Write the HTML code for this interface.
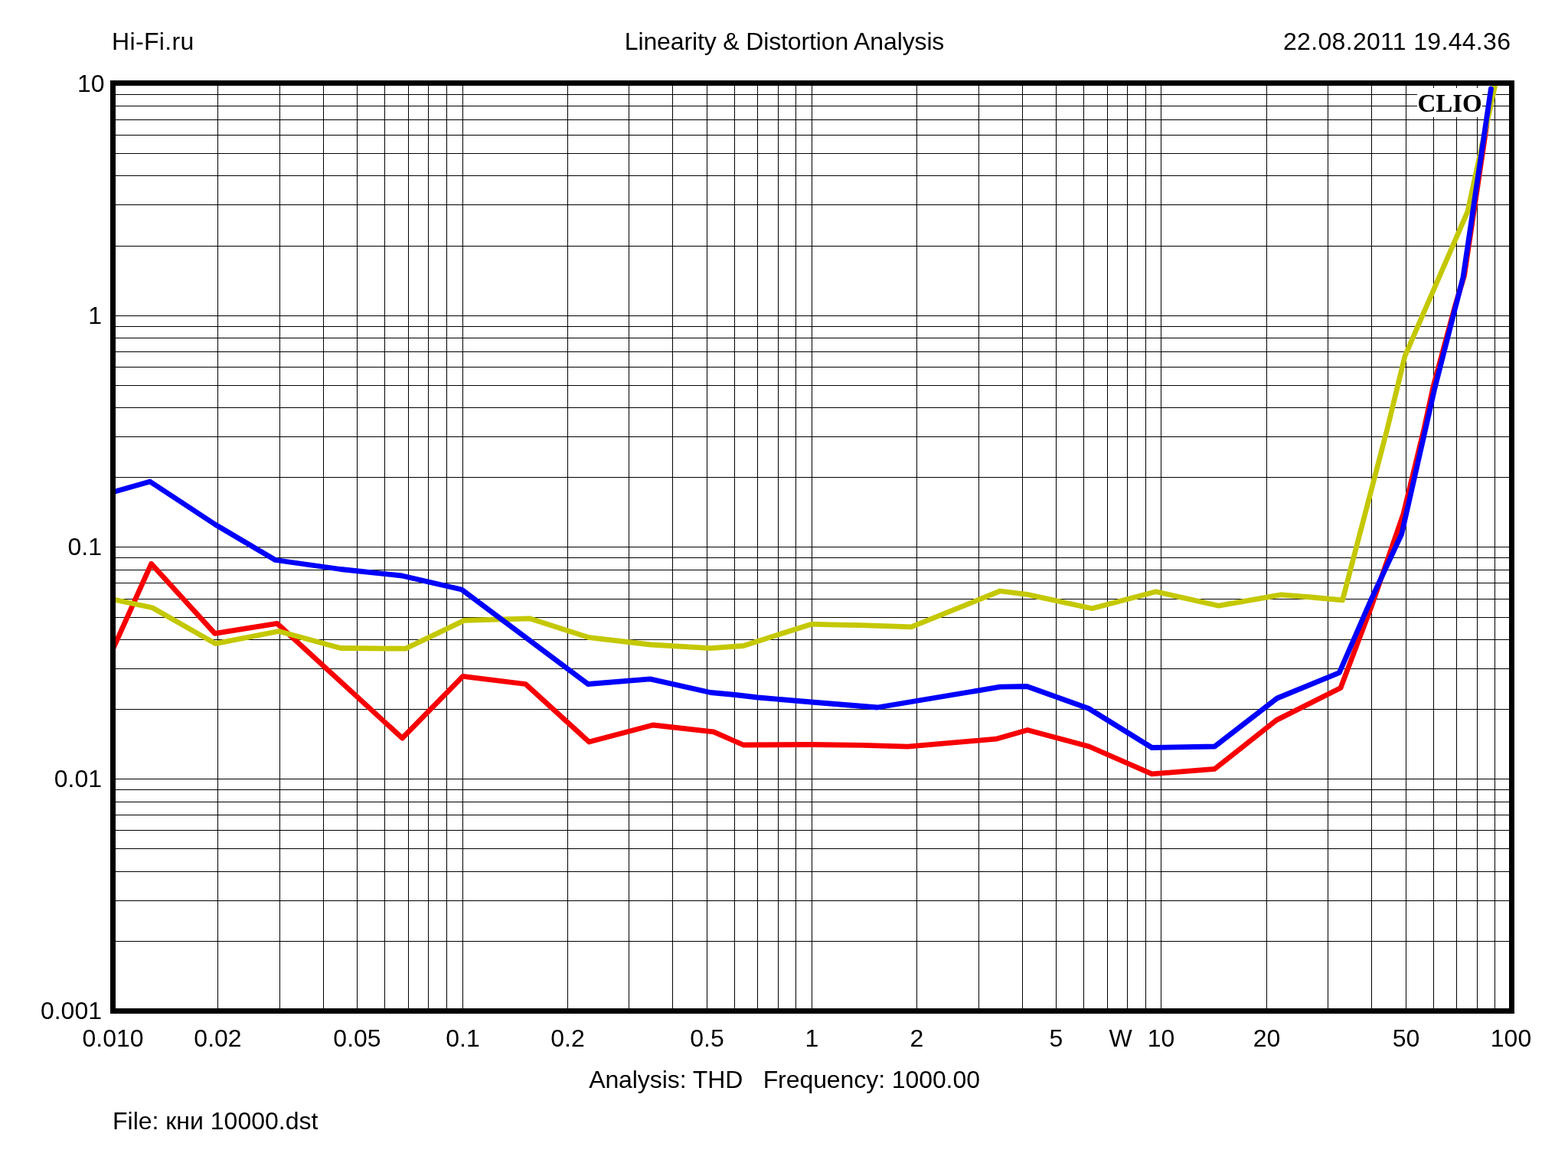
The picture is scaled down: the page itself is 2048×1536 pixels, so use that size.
<!DOCTYPE html>
<html><head><meta charset="utf-8"><title>Linearity &amp; Distortion Analysis</title>
<style>html,body{margin:0;padding:0;background:#fff;}body{width:2048px;height:1536px;overflow:hidden;}svg{display:block;}</style>
</head><body>
<svg width="2048" height="1536" viewBox="0 0 2048 1536">
<defs><clipPath id="pc"><rect x="151" y="112" width="1820" height="1205"/></clipPath></defs>
<g fill="#000" shape-rendering="crispEdges">
<rect x="284" y="112" width="1" height="1205"/>
<rect x="365" y="112" width="1" height="1205"/>
<rect x="422" y="112" width="1" height="1205"/>
<rect x="466" y="112" width="1" height="1205"/>
<rect x="502" y="112" width="1" height="1205"/>
<rect x="533" y="112" width="1" height="1205"/>
<rect x="559" y="112" width="1" height="1205"/>
<rect x="583" y="112" width="1" height="1205"/>
<rect x="604" y="112" width="1" height="1205"/>
<rect x="741" y="112" width="1" height="1205"/>
<rect x="821" y="112" width="1" height="1205"/>
<rect x="878" y="112" width="1" height="1205"/>
<rect x="923" y="112" width="1" height="1205"/>
<rect x="959" y="112" width="1" height="1205"/>
<rect x="989" y="112" width="1" height="1205"/>
<rect x="1016" y="112" width="1" height="1205"/>
<rect x="1039" y="112" width="1" height="1205"/>
<rect x="1060" y="112" width="1" height="1205"/>
<rect x="1197" y="112" width="1" height="1205"/>
<rect x="1278" y="112" width="1" height="1205"/>
<rect x="1335" y="112" width="1" height="1205"/>
<rect x="1379" y="112" width="1" height="1205"/>
<rect x="1415" y="112" width="1" height="1205"/>
<rect x="1446" y="112" width="1" height="1205"/>
<rect x="1472" y="112" width="1" height="1205"/>
<rect x="1496" y="112" width="1" height="1205"/>
<rect x="1516" y="112" width="1" height="1205"/>
<rect x="1654" y="112" width="1" height="1205"/>
<rect x="1734" y="112" width="1" height="1205"/>
<rect x="1791" y="112" width="1" height="1205"/>
<rect x="1836" y="112" width="1" height="1205"/>
<rect x="1872" y="112" width="1" height="1205"/>
<rect x="1902" y="112" width="1" height="1205"/>
<rect x="1929" y="112" width="1" height="1205"/>
<rect x="1952" y="112" width="1" height="1205"/>
<rect x="151" y="1229" width="1820" height="1"/>
<rect x="151" y="1176" width="1820" height="1"/>
<rect x="151" y="1138" width="1820" height="1"/>
<rect x="151" y="1108" width="1820" height="1"/>
<rect x="151" y="1084" width="1820" height="1"/>
<rect x="151" y="1064" width="1820" height="1"/>
<rect x="151" y="1047" width="1820" height="1"/>
<rect x="151" y="1031" width="1820" height="1"/>
<rect x="151" y="1017" width="1820" height="1"/>
<rect x="151" y="926" width="1820" height="1"/>
<rect x="151" y="873" width="1820" height="1"/>
<rect x="151" y="835" width="1820" height="1"/>
<rect x="151" y="806" width="1820" height="1"/>
<rect x="151" y="782" width="1820" height="1"/>
<rect x="151" y="761" width="1820" height="1"/>
<rect x="151" y="744" width="1820" height="1"/>
<rect x="151" y="728" width="1820" height="1"/>
<rect x="151" y="714" width="1820" height="1"/>
<rect x="151" y="623" width="1820" height="1"/>
<rect x="151" y="570" width="1820" height="1"/>
<rect x="151" y="532" width="1820" height="1"/>
<rect x="151" y="503" width="1820" height="1"/>
<rect x="151" y="479" width="1820" height="1"/>
<rect x="151" y="459" width="1820" height="1"/>
<rect x="151" y="441" width="1820" height="1"/>
<rect x="151" y="426" width="1820" height="1"/>
<rect x="151" y="412" width="1820" height="1"/>
<rect x="151" y="321" width="1820" height="1"/>
<rect x="151" y="267" width="1820" height="1"/>
<rect x="151" y="229" width="1820" height="1"/>
<rect x="151" y="200" width="1820" height="1"/>
<rect x="151" y="176" width="1820" height="1"/>
<rect x="151" y="156" width="1820" height="1"/>
<rect x="151" y="138" width="1820" height="1"/>
<rect x="151" y="123" width="1820" height="1"/>
<rect x="151" y="109" width="1820" height="1"/>
</g>
<rect x="1851" y="115" width="85" height="38" fill="#fff"/>
<text x="1851.4" y="146" font-family="'Liberation Serif', serif" font-weight="bold" font-size="33" fill="#000">CLIO</text>
<g clip-path="url(#pc)" fill="none" stroke-width="6.8" stroke-linejoin="round" stroke-linecap="round">
<path d="M140.0,864.4 L197.6,736.4 L280.6,827.4 L361.9,814.3 L525.4,964.1 L604.5,883.4 L686.5,893.5 L769.4,969.0 L852.8,947.0 L932.0,955.8 L971.0,973.0 L1060.0,972.5 L1127.0,973.3 L1185.5,975.2 L1300.9,965.2 L1342.0,953.5 L1422.5,975.0 L1504.5,1010.9 L1586.5,1004.3 L1667.1,940.6 L1751.0,898.5 L1792.0,790.0 L1833.0,671.0 L1860.0,560.0 L1872.0,505.0 L1901.0,398.0 L1912.5,360.0 L1921.5,300.0 L1942.0,162.0" stroke="#f60002"/>
<path d="M120.0,776.8 L151.0,783.5 L199.0,793.8 L281.4,840.6 L364.1,824.5 L444.8,846.5 L529.5,847.2 L606.3,810.4 L691.7,807.8 L769.4,832.7 L850.0,842.0 L928.0,846.6 L971.0,843.5 L1059.9,815.2 L1083.3,815.9 L1124.3,816.6 L1169.7,818.1 L1190.2,818.8 L1306.2,772.0 L1341.3,776.4 L1426.3,794.7 L1509.8,772.8 L1591.9,791.2 L1673.2,776.9 L1712.0,780.0 L1753.5,783.8 L1812.0,560.0 L1835.0,465.0 L1917.0,276.0 L1952.5,112.3 L1960.0,75.0" stroke="#c4c803"/>
<path d="M120.0,650.5 L151.0,641.7 L195.9,629.0 L281.0,685.0 L359.7,731.5 L445.0,743.5 L525.0,752.0 L603.0,770.0 L768.0,893.5 L849.2,886.9 L928.0,904.5 L960.2,907.5 L990.0,911.0 L1060.0,917.0 L1146.0,924.0 L1306.2,897.2 L1341.3,896.5 L1422.2,925.5 L1504.5,976.5 L1586.5,975.0 L1668.0,912.0 L1749.3,878.6 L1790.0,785.0 L1830.8,697.3 L1873.5,509.0 L1911.0,362.0 L1947.4,116.0" stroke="#0000fa"/>
</g>
<g fill="#000" shape-rendering="crispEdges">
<rect x="144" y="105" width="1834" height="7"/>
<rect x="144" y="1317" width="1834" height="7"/>
<rect x="144" y="105" width="7" height="1219"/>
<rect x="1971" y="105" width="7" height="1219"/>
</g>
<text x="146" y="65" text-anchor="start" font-family="'Liberation Sans', Arial, sans-serif" font-size="32" fill="#000" letter-spacing="0.35">Hi-Fi.ru</text>
<text x="1024.5" y="65" text-anchor="middle" font-family="'Liberation Sans', Arial, sans-serif" font-size="32" fill="#000" letter-spacing="-0.13">Linearity &amp; Distortion Analysis</text>
<text x="1676" y="65" text-anchor="start" font-family="'Liberation Sans', Arial, sans-serif" font-size="32" fill="#000" letter-spacing="0.32">22.08.2011 19.44.36</text>
<text x="136.5" y="120" text-anchor="end" font-family="'Liberation Sans', Arial, sans-serif" font-size="32" fill="#000" >10</text>
<text x="133" y="423" text-anchor="end" font-family="'Liberation Sans', Arial, sans-serif" font-size="32" fill="#000" >1</text>
<text x="133" y="725" text-anchor="end" font-family="'Liberation Sans', Arial, sans-serif" font-size="32" fill="#000" >0.1</text>
<text x="133" y="1028" text-anchor="end" font-family="'Liberation Sans', Arial, sans-serif" font-size="32" fill="#000" >0.01</text>
<text x="133" y="1331" text-anchor="end" font-family="'Liberation Sans', Arial, sans-serif" font-size="32" fill="#000" >0.001</text>
<text x="147.5" y="1367" text-anchor="middle" font-family="'Liberation Sans', Arial, sans-serif" font-size="32" fill="#000" >0.010</text>
<text x="284.5" y="1367" text-anchor="middle" font-family="'Liberation Sans', Arial, sans-serif" font-size="32" fill="#000" >0.02</text>
<text x="466.5" y="1367" text-anchor="middle" font-family="'Liberation Sans', Arial, sans-serif" font-size="32" fill="#000" >0.05</text>
<text x="604.5" y="1367" text-anchor="middle" font-family="'Liberation Sans', Arial, sans-serif" font-size="32" fill="#000" >0.1</text>
<text x="741.5" y="1367" text-anchor="middle" font-family="'Liberation Sans', Arial, sans-serif" font-size="32" fill="#000" >0.2</text>
<text x="923.5" y="1367" text-anchor="middle" font-family="'Liberation Sans', Arial, sans-serif" font-size="32" fill="#000" >0.5</text>
<text x="1060.5" y="1367" text-anchor="middle" font-family="'Liberation Sans', Arial, sans-serif" font-size="32" fill="#000" >1</text>
<text x="1197.5" y="1367" text-anchor="middle" font-family="'Liberation Sans', Arial, sans-serif" font-size="32" fill="#000" >2</text>
<text x="1379.5" y="1367" text-anchor="middle" font-family="'Liberation Sans', Arial, sans-serif" font-size="32" fill="#000" >5</text>
<text x="1516.5" y="1367" text-anchor="middle" font-family="'Liberation Sans', Arial, sans-serif" font-size="32" fill="#000" >10</text>
<text x="1654.5" y="1367" text-anchor="middle" font-family="'Liberation Sans', Arial, sans-serif" font-size="32" fill="#000" >20</text>
<text x="1836.5" y="1367" text-anchor="middle" font-family="'Liberation Sans', Arial, sans-serif" font-size="32" fill="#000" >50</text>
<text x="1973.5" y="1367" text-anchor="middle" font-family="'Liberation Sans', Arial, sans-serif" font-size="32" fill="#000" >100</text>
<text x="1463.5" y="1367" text-anchor="middle" font-family="'Liberation Sans', Arial, sans-serif" font-size="32" fill="#000" >W</text>
<text x="1024.5" y="1421" text-anchor="middle" font-family="'Liberation Sans', Arial, sans-serif" font-size="32" fill="#000" letter-spacing="-0.08" xml:space="preserve" style="white-space:pre">Analysis: THD   Frequency: 1000.00</text>
<text x="147" y="1475" text-anchor="start" font-family="'Liberation Sans', Arial, sans-serif" font-size="32" fill="#000" >File: кни 10000.dst</text>
</svg>
</body></html>
